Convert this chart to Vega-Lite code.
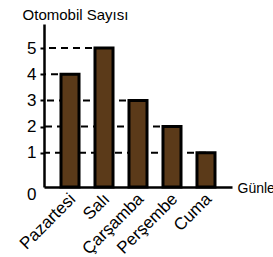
{
  "$schema": "https://vega.github.io/schema/vega-lite/v6.json",
  "width": 188,
  "height": 163,
  "autosize": {"type": "none"},
  "padding": {"left": 44, "top": 24, "right": 41, "bottom": 70},
  "config": {"view": {"stroke": null}, "font": "Liberation Sans", "axisY": {"labelOverlap": false}},
  "data": {"values": [
    {"day": "Pazartesi", "count": 4},
    {"day": "Salı", "count": 5},
    {"day": "Çarşamba", "count": 3},
    {"day": "Perşembe", "count": 2},
    {"day": "Cuma", "count": 1}
  ]},
  "encoding": {
    "y": {
      "field": "count", "type": "quantitative",
      "scale": {"domain": [-0.31, 5.92], "nice": false, "zero": false},
      "axis": {
        "values": [-0.31, 1, 2, 3, 4, 5],
        "labelExpr": "datum.value < 0 ? '0' : format(datum.value, 'd')",
        "labelOverlap": false,
        "grid": false,
        "domainColor": "black", "domainWidth": 2.5,
        "tickColor": {"condition": {"test": "datum.value < 0", "value": "transparent"}, "value": "black"},
        "tickSize": 4, "tickWidth": 2,
        "labelFontSize": 17, "labelColor": "black", "labelPadding": 4,
        "labelOffset": {"condition": {"test": "datum.value < 0", "value": 7}, "value": 0},
        "title": "Otomobil Sayısı", "titleAngle": 0, "titleX": 31, "titleY": -10,
        "titleAlign": "center", "titleBaseline": "middle",
        "titleFontSize": 15, "titleFontWeight": "normal", "titleColor": "black"
      }
    }
  },
  "layer": [
    {
      "mark": {"type": "rule", "strokeDash": [7, 5], "strokeWidth": 2, "color": "black"},
      "encoding": {
        "x": {"field": "day", "type": "nominal", "sort": null, "bandPosition": 0.5},
        "x2": {"value": 0}
      }
    },
    {
      "mark": {"type": "bar", "fill": "#5B3A19", "stroke": "black", "strokeWidth": 3},
      "encoding": {
        "x": {
          "field": "day", "type": "nominal", "sort": null,
          "scale": {"paddingInner": 0.47, "paddingOuter": 0.5},
          "axis": {
            "domainColor": "black", "domainWidth": 2.5, "ticks": false,
            "labelAngle": -45, "labelFontSize": 17, "labelColor": "black", "labelPadding": 9,
            "labelOffset": 3,
            "labelOverlap": false,
            "title": "Günler", "titleX": 193, "titleY": 1, "titleAlign": "left", "titleBaseline": "middle",
            "titleFontSize": 14, "titleFontWeight": "normal", "titleColor": "black"
          }
        },
        "y2": {"datum": -0.31}
      }
    },
    {
      "data": {"values": [{}]},
      "mark": {"type": "point", "shape": "triangle-up", "filled": true, "color": "black", "size": 40, "opacity": 1},
      "encoding": {"x": {"value": 0}, "y": {"datum": 5.8}}
    },
    {
      "data": {"values": [{}]},
      "mark": {"type": "point", "shape": "triangle-right", "filled": true, "color": "black", "size": 40, "opacity": 1},
      "encoding": {"x": {"value": {"expr": "width - 3"}}, "y": {"datum": -0.31}}
    }
  ]
}
